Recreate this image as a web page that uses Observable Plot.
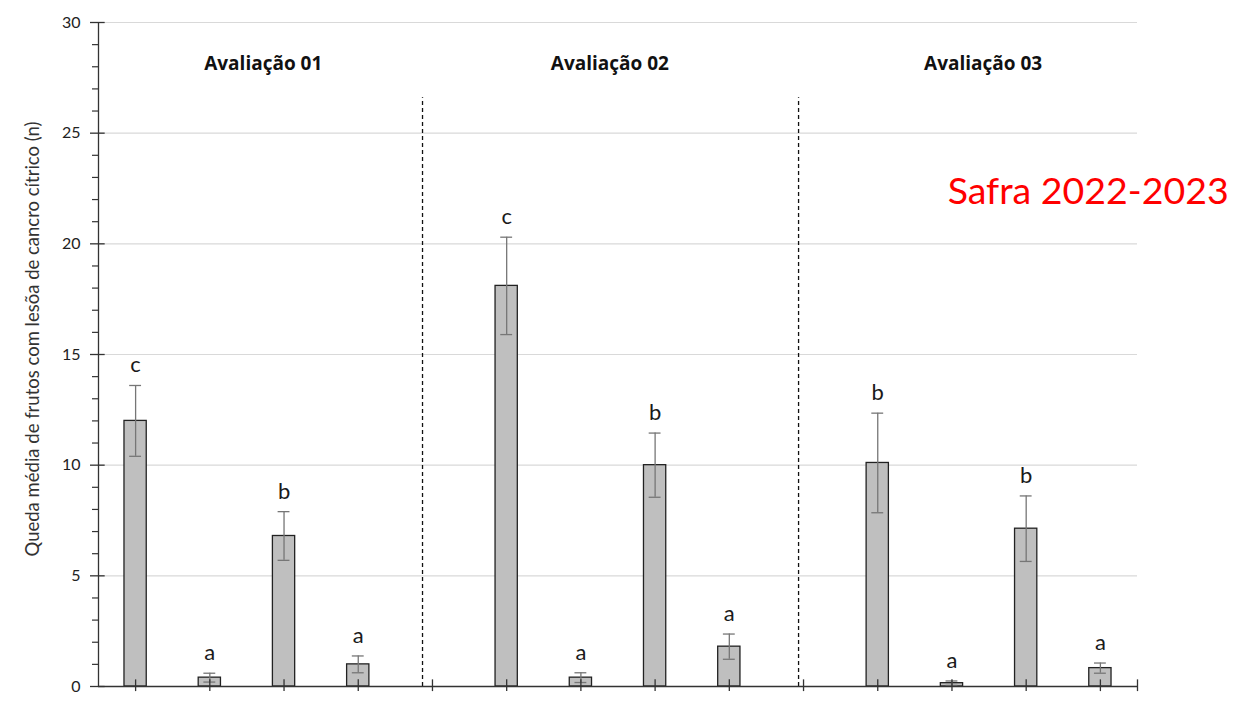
<!DOCTYPE html>
<html>
<head>
<meta charset="utf-8">
<script src="https://cdn.jsdelivr.net/npm/d3@7"></script>
<script src="https://cdn.jsdelivr.net/npm/@observablehq/plot@0.6"></script>
<style>
  html, body { margin: 0; padding: 0; background: #fff; }
  #chart svg { display: block; }
</style>
</head>
<body>
<div id="chart"></div>
<script>
// ---- Data ----
const groups = ["Avaliação 01", "Avaliação 02", "Avaliação 03"];
const treatments = [0, 1, 2, 3];
const means = [
  [12.0, 0.4, 6.8, 1.0],
  [18.1, 0.4, 10.0, 1.8],
  [10.1, 0.15, 7.13, 0.83]
];
const errors = [
  [1.6, 0.2, 1.1, 0.38],
  [2.2, 0.22, 1.45, 0.57],
  [2.25, 0.1, 1.48, 0.23]
];
const letters = [
  ["c", "a", "b", "a"],
  ["c", "a", "b", "a"],
  ["b", "a", "b", "a"]
];
const yTicks = [0, 5, 10, 15, 20, 25, 30];
const yLabel = "Queda média de frutos com lesõa de cancro cítrico (n)";
const safraLabel = "Safra 2022-2023";

// ---- Build table ----
const rows = [];
groups.forEach((g, gi) => {
  treatments.forEach((t, ti) => {
    const slot = gi * 5 + ti; // one empty slot between groups
    rows.push({
      group: g,
      xc: slot + 0.5,
      mean: means[gi][ti],
      err: errors[gi][ti],
      letter: letters[gi][ti]
    });
  });
});
const nSlots = groups.length * 5 - 1;
const xTicks = d3.range(nSlots).map(i => i + 0.5).concat([nSlots]);
const minorTicks = d3.range(0, 31, 1).filter(v => v % 5 !== 0);

const calibri = "Lato, 'Open Sans', sans-serif";
const barHalf = 0.15, capHalf = 0.08;

const chart = Plot.plot({
  width: 1254,
  height: 706,
  marginLeft: 98,
  marginRight: 117,
  marginTop: 22,
  marginBottom: 20,
  style: { fontFamily: calibri, background: "#fff", overflow: "visible" },
  x: { domain: [0, nSlots], axis: null },
  y: { domain: [0, 30], axis: null },
  marks: [
    // gridlines
    Plot.ruleY(yTicks.filter(d => d > 0), { stroke: "#d9d9d9", strokeWidth: 1.2 }),
    // group separators
    Plot.ruleX([4.366, 9.433], { y1: 0, y2: 26.6, stroke: "#111", strokeWidth: 1.3, strokeDasharray: "4,3" }),
    // bars
    Plot.rect(rows, {
      x1: d => d.xc - barHalf, x2: d => d.xc + barHalf,
      y1: 0, y2: "mean",
      fill: "#bfbfbf", stroke: "#222", strokeWidth: 1.3
    }),
    // error bars
    Plot.ruleX(rows, { x: "xc", y1: d => d.mean - d.err, y2: d => d.mean + d.err, stroke: "#767676", strokeWidth: 1.3 }),
    Plot.ruleY(rows, { y: d => d.mean + d.err, x1: d => d.xc - capHalf, x2: d => d.xc + capHalf, stroke: "#767676", strokeWidth: 1.3 }),
    Plot.ruleY(rows, { y: d => d.mean - d.err, x1: d => d.xc - capHalf, x2: d => d.xc + capHalf, stroke: "#767676", strokeWidth: 1.3 }),
    // significance letters
    Plot.text(rows, {
      x: "xc", y: d => d.mean + d.err, text: "letter",
      lineAnchor: "bottom", dy: -13, fontSize: 22, fill: "#1a1a1a", fontFamily: calibri
    }),
    // axes lines
    Plot.ruleY([0], { x1: 0, x2: nSlots, stroke: "#333", strokeWidth: 1.3 }),
    Plot.ruleX([0], { y1: 0, y2: 30, stroke: "#333", strokeWidth: 1.3 }),
    // x ticks (crossing)
    Plot.ruleX(xTicks, { x: d => d, y1: -0.23, y2: 0.3, stroke: "#333", strokeWidth: 1.3 }),
    // y axis major ticks + labels
    Plot.axisY(yTicks, {
      tickSize: 8, tickPadding: 10, fontSize: 16, stroke: "#333",
      fill: "#222", label: null, strokeWidth: 1.3
    }),
    Plot.ruleY(yTicks, { x1: 0, x2: 0.09, stroke: "#333", strokeWidth: 1.3 }),
    // minor ticks
    Plot.axisY(minorTicks, { tickSize: 6, tickFormat: () => "", label: null, stroke: "#333", strokeWidth: 1.2 }),
    // y label
    Plot.text([yLabel], {
      x: 0, y: 15.7, text: d => d, rotate: -90, dx: -65,
      fontSize: 18.5, fill: "#333", fontFamily: calibri
    }),
    // group titles
    Plot.text(groups, {
      x: (d, i) => [2.22, 6.89, 11.92][i], y: 27.85, text: d => d,
      lineAnchor: "bottom", fontSize: 19, fontWeight: "bold", fill: "#111",
      fontFamily: "'Open Sans', 'Noto Sans', sans-serif"
    }),
    // season label
    Plot.text([safraLabel], {
      x: 15.23, y: 21.8, text: d => d, textAnchor: "end", lineAnchor: "bottom",
      fontSize: 37.5, fill: "#ff0000", fontFamily: calibri
    })
  ]
});
document.getElementById("chart").append(chart);
</script>
</body>
</html>
